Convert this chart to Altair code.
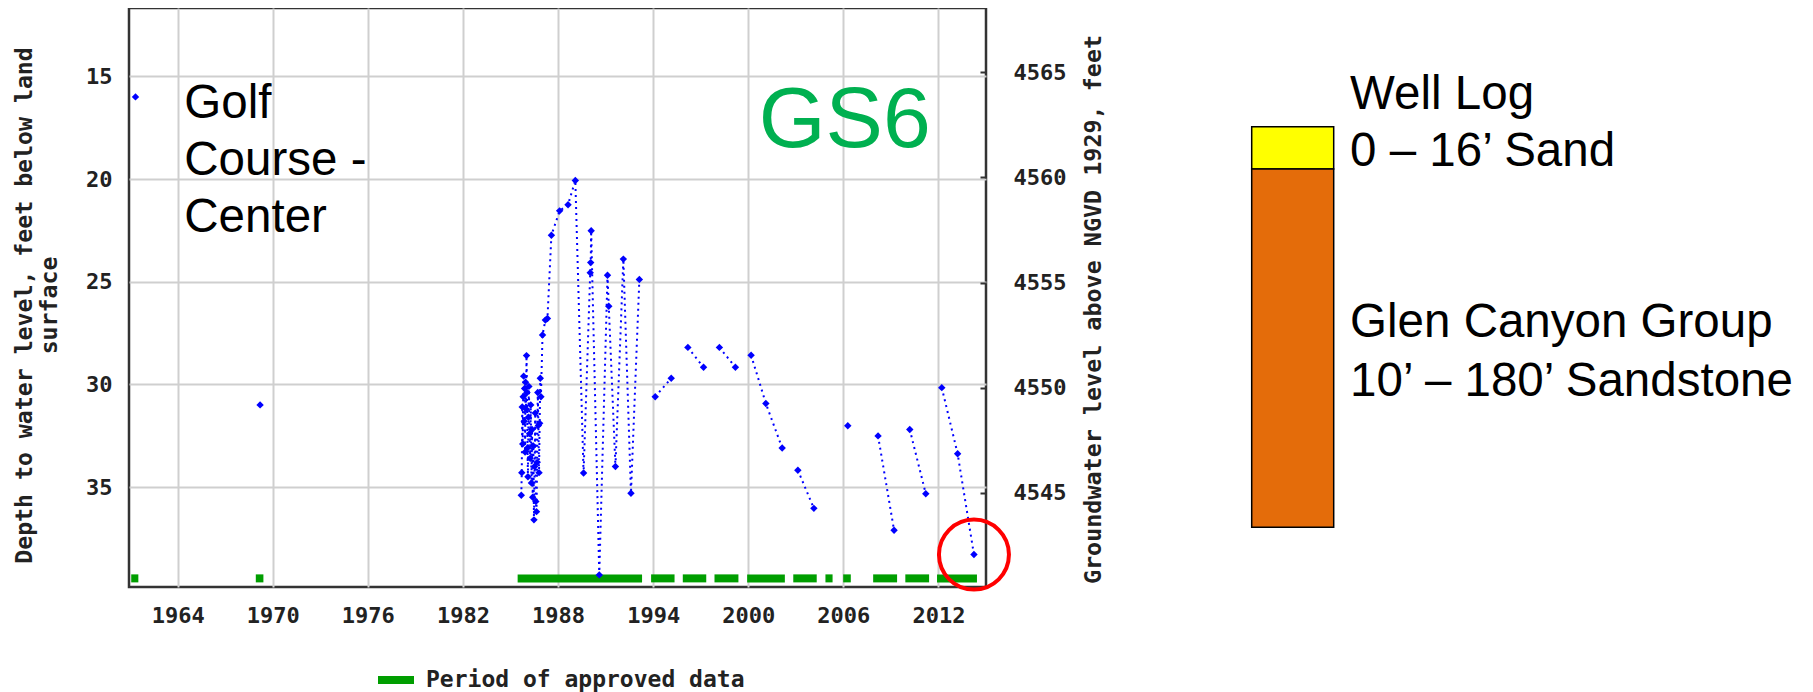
import altair as alt
import pandas as pd

# ---------------- hydrograph observations (decimal year, depth ft below land) ----------------
obs_year = [
    1961.34,
    1969.20,
    1985.68, 1985.71, 1985.74, 1985.77, 1985.80, 1985.83, 1985.86, 1985.89, 1985.92, 1985.95,
    1985.98, 1986.01, 1986.04, 1986.07, 1986.10, 1986.13, 1986.16, 1986.20, 1986.24, 1986.28,
    1986.32, 1986.36, 1986.40, 1986.44, 1986.48, 1986.52, 1986.56, 1986.60, 1986.64, 1986.68,
    1986.72, 1986.76, 1986.80, 1986.84, 1986.88, 1986.92,
    1987.02, 1987.20, 1987.33, 1987.58, 1988.10, 1988.63, 1989.09, 1989.61, 1990.03, 1990.06,
    1990.09, 1990.60, 1991.12, 1991.20, 1991.62, 1992.12, 1992.60, 1993.13,
    1994.13, 1995.14,
    1996.19, 1997.18,
    1998.18, 1999.19,
    2000.18, 2001.11, 2002.14,
    2003.13, 2004.14,
    2006.28,
    2008.19, 2009.20,
    2010.19, 2011.20,
    2012.21, 2013.21, 2014.24,
]
obs_depth = [
    16.0,
    31.0,
    35.4, 34.3, 31.1, 32.9, 30.6, 29.6, 31.8, 30.2, 33.3, 29.9,
    31.2, 28.6, 30.4, 33.1, 34.5, 31.6, 30.1, 32.4, 33.6, 31.0,
    34.8, 32.2, 35.5, 33.0, 36.6, 34.0, 31.4, 35.7, 36.2, 33.8,
    30.4, 32.0, 34.3, 31.9, 29.7, 30.6,
    27.6, 26.87, 26.79, 22.74, 21.55, 21.25, 20.07, 34.32, 24.56, 24.07,
    22.52, 39.28, 24.69, 26.20, 34.00, 23.90, 35.30, 24.89,
    30.6, 29.7,
    28.2, 29.17,
    28.2, 29.17,
    28.58, 30.93, 33.1,
    34.18, 36.04,
    32.02,
    32.51, 37.11,
    32.2, 35.33,
    30.16, 33.38, 38.29,
]
obs_seg = (
    [1]
    + [2]
    + [3] * 54
    + [4] * 2
    + [5] * 2
    + [6] * 2
    + [7] * 3
    + [8] * 2
    + [9]
    + [10] * 2
    + [11] * 2
    + [12] * 3
)

# ---------------- periods of approved data ----------------
approved_label = "Period of approved data"
approved_start = [1961.07, 1968.93, 1985.45, 1993.87, 1995.87, 1997.87, 1999.93, 2002.84,
                  2004.87, 2005.99, 2007.88, 2009.91, 2011.91]
approved_end = [1961.52, 1969.41, 1993.30, 1995.35, 1997.35, 1999.38, 2002.31, 2004.32,
                2005.32, 2006.47, 2009.39, 2011.41, 2014.43]
approved_depth = 39.45

# ---------------- axes ----------------
x_ticks = [1964, 1970, 1976, 1982, 1988, 1994, 2000, 2006, 2012]
depth_ticks = [15, 20, 25, 30, 35]
elev_ticks = [4545, 4550, 4555, 4560, 4565]

# ---------------- annotations ----------------
site_lines = ["Golf", "Course -", "Center"]
site_line_depth = [17.02, 19.81, 22.57]
site_year = 1964.42
well_id = "GS6"
well_id_pos = (2000.66, 18.42)

# ---------------- well log column ----------------
log_unit = ["Sand", "Glen Canyon Group sandstone"]
log_top = [0, 19]
log_bottom = [19, 180]
log_color = ["#ffff00", "#e46c0a"]
log_text = ["Well Log", "0 \u2013 16\u2019 Sand", "Glen Canyon Group", "10\u2019 \u2013 180\u2019 Sandstone"]
log_text_depth = [-8.2, 17.4, 94.6, 120.8]

# ---------------- build ----------------
obs_df = pd.DataFrame({"year": obs_year, "depth": obs_depth, "seg": obs_seg})
appr_df = pd.DataFrame({"start": approved_start, "end": approved_end,
                        "label": [approved_label] * len(approved_start)})
last_df = obs_df.tail(1)
site_df = pd.DataFrame({"text": site_lines, "depth": site_line_depth, "year": [site_year] * 3})
gs_df = pd.DataFrame({"text": [well_id], "year": [well_id_pos[0]], "depth": [well_id_pos[1]]})
elev_df = pd.DataFrame({"elev": elev_ticks})
log_df = pd.DataFrame({"unit": log_unit, "top": log_top, "bottom": log_bottom, "color": log_color})
logt_df = pd.DataFrame({"text": log_text, "depth": log_text_depth})

W, H = 857, 579
mono = "DejaVu Sans Mono"
sans = "Liberation Sans, Arial, sans-serif"
ink = "#222222"

x_scale = alt.Scale(domain=[1960.93, 2015.0], nice=False, zero=False)
y_scale = alt.Scale(domain=[11.67, 39.87], reverse=True, nice=False, zero=False)

x_enc = alt.X("year:Q", scale=x_scale,
              axis=alt.Axis(values=x_ticks, format="d", title=None, grid=True,
                            labelPadding=18, labelFlush=False))
y_enc = alt.Y("depth:Q", scale=y_scale,
              axis=alt.Axis(values=depth_ticks, format="d", grid=True, labelPadding=17,
                            title=["Depth to water level, feet below land", "surface"],
                            titleFontSize=23.2, titlePadding=24, titleLineHeight=25,
                            titleY=297))

approved = alt.Chart(appr_df).mark_rule(strokeWidth=8, strokeCap="butt").encode(
    x=alt.X("start:Q", scale=x_scale),
    x2="end:Q",
    y=alt.datum(approved_depth),
    color=alt.Color("label:N",
                    scale=alt.Scale(domain=[approved_label], range=["#009e00"]),
                    legend=alt.Legend(title=None, orient="none", legendX=245, legendY=650,
                                      symbolType="stroke", symbolStrokeWidth=8, symbolSize=1296,
                                      labelFont=mono, labelFontWeight="bold", labelFontSize=23,
                                      labelColor=ink, labelOffset=8, labelLimit=0, padding=0)),
)

line = alt.Chart(obs_df).mark_line(color="#0000ff", strokeWidth=2, strokeDash=[2, 4]).encode(
    x=x_enc, y=y_enc, detail="seg:N"
)
points = alt.Chart(obs_df).mark_point(shape="diamond", filled=True, size=55, color="#0000ff",
                                      opacity=1).encode(x="year:Q", y="depth:Q")
circle = alt.Chart(last_df).mark_point(shape="circle", size=4900, filled=False, color="#ff0000",
                                       strokeWidth=4, opacity=1).encode(x="year:Q", y="depth:Q")
site_text = alt.Chart(site_df).mark_text(align="left", baseline="alphabetic", font=sans,
                                         fontSize=47.5, color="#000000").encode(
    x="year:Q", y="depth:Q", text="text:N")
gs_text = alt.Chart(gs_df).mark_text(align="left", baseline="alphabetic", font=sans,
                                     fontSize=86, color="#00b050").encode(
    x="year:Q", y="depth:Q", text="text:N")

main = alt.layer(approved, line, points, circle, site_text, gs_text)

right = alt.Chart(elev_df).mark_point(opacity=0).encode(
    y=alt.Y("elev:Q", scale=alt.Scale(domain=[4540.53, 4568.05], nice=False, zero=False),
            axis=alt.Axis(orient="right", values=elev_ticks, format="d", grid=False, ticks=True,
                          tickSize=6, tickWidth=2, tickColor="#333", offset=-6,
                          labelPadding=27,
                          title="Groundwater level above NGVD 1929, feet",
                          titleFontSize=23.4, titleAngle=270, titleBaseline="top",
                          titlePadding=17, titleY=301))
)

lx = alt.Scale(domain=[0, 1], range=[1122.7, 1204.7], nice=False, zero=False)
ly = alt.Scale(domain=[0, 180], range=[118.8, 519.2], nice=False, zero=False)
log_rect = alt.Chart(log_df).mark_rect(stroke="#000000", strokeWidth=1.5).encode(
    x=alt.X(datum=0, type="quantitative", scale=lx, axis=None),
    x2=alt.X2(datum=1),
    y=alt.Y("top:Q", scale=ly, axis=None),
    y2="bottom:Q",
    color=alt.Color("color:N", scale=None),
)
log_txt = alt.Chart(logt_df).mark_text(align="left", baseline="alphabetic", font=sans,
                                       fontSize=47.5, color="#000000").encode(
    x=alt.X(datum=1.2, type="quantitative", scale=lx, axis=None),
    y=alt.Y("depth:Q", scale=ly, axis=None),
    text="text:N",
)
log = alt.layer(log_rect, log_txt)

chart = (
    alt.layer(main, right, log)
    .resolve_scale(x="independent", y="independent")
    .properties(width=W, height=H, autosize=alt.AutoSizeParams(type="none"),
                padding={"left": 121, "top": 0, "right": 819, "bottom": 105})
    .configure_view(stroke="#333333", strokeWidth=2.5)
    .configure_axis(labelFont=mono, labelFontSize=22, labelFontWeight="bold", labelColor=ink,
                    titleFont=mono, titleFontSize=22, titleFontWeight="bold", titleColor=ink,
                    gridColor="#cfcfcf", gridWidth=2, domain=False, ticks=False)
)

chart.save("out.html", embed_options={"renderer": "svg", "actions": False})
